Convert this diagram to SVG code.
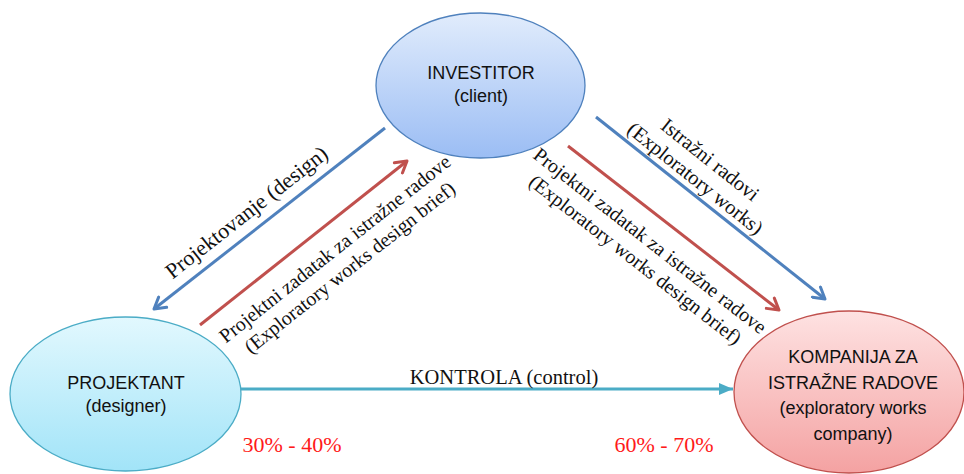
<svg xmlns="http://www.w3.org/2000/svg" width="964" height="474" viewBox="0 0 964 474">
<style>
.node-text{font-family:"Liberation Sans",Arial,sans-serif;font-size:18px;fill:#111;text-anchor:middle}
.lbl{font-family:"Liberation Serif","Times New Roman",serif;fill:#111;text-anchor:middle}
.pct{font-family:"Liberation Serif","Times New Roman",serif;font-size:22px;fill:#ff1a1a;text-anchor:middle}
.conn{fill:none;stroke-width:3}
</style>
<defs>
<linearGradient id="gInv" x1="0" y1="0" x2="0" y2="1">
<stop offset="0" stop-color="#e1ecfc"/><stop offset="1" stop-color="#9bbdf4"/>
</linearGradient>
<linearGradient id="gPro" x1="0" y1="0" x2="0" y2="1">
<stop offset="0" stop-color="#e2f8fe"/><stop offset="1" stop-color="#a2e4f8"/>
</linearGradient>
<linearGradient id="gKom" x1="0" y1="0" x2="0" y2="1">
<stop offset="0" stop-color="#fee2e2"/><stop offset="1" stop-color="#f4a2a2"/>
</linearGradient>
<marker id="mBlue" viewBox="0 0 16 16" refX="13" refY="8" markerWidth="16" markerHeight="16" markerUnits="userSpaceOnUse" orient="auto">
<path d="M2,1.5 L13,8 L2,14.5" fill="none" stroke="#4f81bd" stroke-width="3" stroke-linecap="round" stroke-linejoin="round"/>
</marker>
<marker id="mRed" viewBox="0 0 16 16" refX="13" refY="8" markerWidth="16" markerHeight="16" markerUnits="userSpaceOnUse" orient="auto">
<path d="M2,1.5 L13,8 L2,14.5" fill="none" stroke="#c0504d" stroke-width="3" stroke-linecap="round" stroke-linejoin="round"/>
</marker>
<marker id="mCyan" viewBox="0 0 14 12" refX="14" refY="6" markerWidth="14" markerHeight="12" markerUnits="userSpaceOnUse" orient="auto">
<path d="M0,0 L14,6 L0,12 Z" fill="#4bacc6"/>
</marker>
</defs>

<g id="connectors">
<line class="conn" x1="385" y1="128" x2="154" y2="309" stroke="#4f81bd" marker-end="url(#mBlue)"/>
<line class="conn" x1="200" y1="325" x2="407" y2="161" stroke="#c0504d" marker-end="url(#mRed)"/>
<line class="conn" x1="596" y1="117" x2="825" y2="299" stroke="#4f81bd" marker-end="url(#mBlue)"/>
<line class="conn" x1="568" y1="146" x2="779" y2="310" stroke="#c0504d" marker-end="url(#mRed)"/>
<line class="conn" x1="241" y1="389" x2="733" y2="389" stroke="#4bacc6" marker-end="url(#mCyan)"/>
</g>

<g id="labels">
<text class="lbl" font-size="22" transform="translate(251,218) rotate(-38.1)">Projektovanje (design)</text>
<text class="lbl" font-size="20" transform="translate(339,254) rotate(-38.4)"><tspan x="0" y="0">Projektni zadatak za istražne radove</tspan><tspan x="0" y="24">(Exploratory works design brief)</tspan></text>
<text class="lbl" font-size="20.5" transform="translate(706,165) rotate(38.5)"><tspan x="0" y="0">Istražni radovi</tspan><tspan x="0" y="24">(Exploratory works)</tspan></text>
<text class="lbl" font-size="20" transform="translate(646,246) rotate(37.9)"><tspan x="0" y="0">Projektni zadatak za istražne radove</tspan><tspan x="0" y="24">(Exploratory works design brief)</tspan></text>
<text class="lbl" font-size="20.5" x="504" y="384">KONTROLA (control)</text>
<text class="pct" x="292" y="452">30% - 40%</text>
<text class="pct" x="664" y="452">60% - 70%</text>
</g>

<g id="investitor">
<ellipse cx="480.5" cy="85.5" rx="104.5" ry="72.5" fill="url(#gInv)" stroke="#4f81bd" stroke-width="1.3"/>
<text class="node-text" x="481" y="79">INVESTITOR</text>
<text class="node-text" x="481" y="102">(client)</text>
</g>

<g id="projektant">
<ellipse cx="125.5" cy="394" rx="115.5" ry="77" fill="url(#gPro)" stroke="#4bacc6" stroke-width="1.3"/>
<text class="node-text" x="126" y="389">PROJEKTANT</text>
<text class="node-text" x="126" y="412">(designer)</text>
</g>

<g id="kompanija">
<ellipse cx="849" cy="392" rx="115" ry="81" fill="url(#gKom)" stroke="#c0504d" stroke-width="1.3"/>
<text class="node-text" x="853" y="363">KOMPANIJA ZA</text>
<text class="node-text" x="853" y="389">ISTRAŽNE RADOVE</text>
<text class="node-text" x="853" y="414">(exploratory works</text>
<text class="node-text" x="853" y="440">company)</text>
</g>
</svg>
